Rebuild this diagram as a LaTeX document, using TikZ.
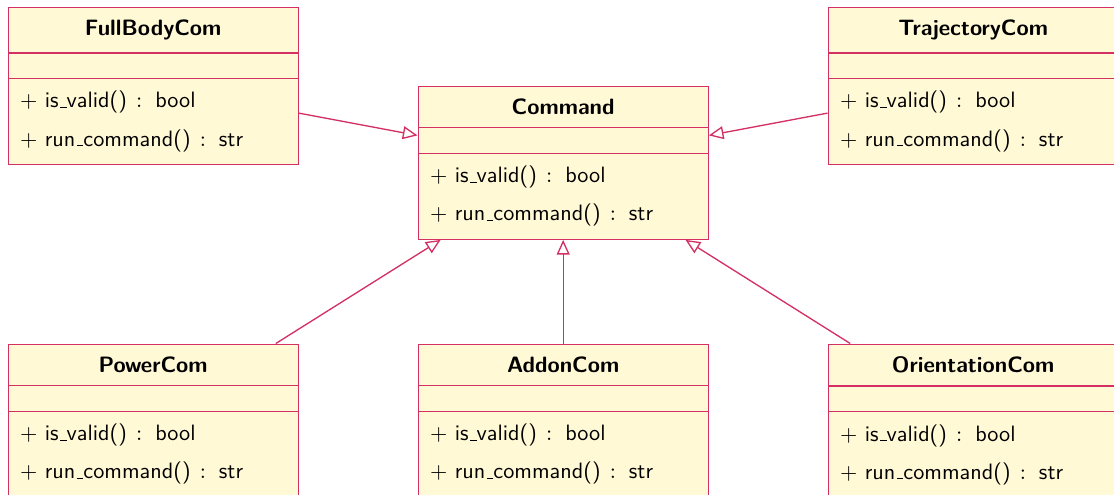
\documentclass[tikz,border=0pt]{standalone}
\usepackage{tikz}
\usetikzlibrary{shapes.multipart}
\usetikzlibrary{arrows.meta}

\definecolor{umlline}{RGB}{212,48,100}
\definecolor{umlfill}{RGB}{255,249,214}

\tikzset{
  umlclass/.style={rectangle split, rectangle split parts=3,
    draw=umlline, fill=umlfill, line width=0.6pt,
    text width=119.7pt, inner xsep=5.4pt, inner ysep=5.45pt,
    anchor=north west, font=\sffamily},
  inherit/.style={draw=umlline, line width=0.6pt,
    -{Triangle[open,length=6.6pt,width=5.8pt]}}
}

% thin low underscore and spaced colon for the method lines
\newcommand{\us}{\leavevmode\kern.06em\vbox{\hrule width.3em}}
\newcommand{\rtype}{ \kern0.8pt$:$ \kern2.5pt}
% operations shared by every command class
\newcommand{\comops}{$+$ is\us valid()\rtype bool\\[5.2pt]$+$ run\us command()\rtype str}

\begin{document}
\begin{tikzpicture}[x=0.45pt,y=-0.45pt]
\useasboundingbox (0,0) rectangle (1114,494);
\clip (0,0) rectangle (1114,494);

% Define nodes
\node[umlclass] (command) at (417.5,85.5) {\centering\textbf{Command}\par\nodepart{two}\nodepart{three}\comops};
\node[umlclass] (fullbody) at (7.5,6.5) {\centering\textbf{FullBodyCom}\par\nodepart{two}\nodepart{three}\comops};
\node[umlclass] (trajectory) at (827.5,6.5) {\centering\textbf{TrajectoryCom}\par\nodepart{two}\nodepart{three}\comops};
\node[umlclass] (power) at (7.5,343.5) {\centering\textbf{PowerCom}\par\nodepart{two}\nodepart{three}\comops};
\node[umlclass] (addon) at (417.5,343.5) {\centering\textbf{AddonCom}\par\nodepart{two}\nodepart{three}\comops};
\node[umlclass] (orientation) at (827.5,343.5) {\centering\textbf{OrientationCom}\par\nodepart{two}\nodepart{three}\comops};

% Edges
\draw[inherit] (fullbody) -- (command);
\draw[inherit] (trajectory) -- (command);
\draw[inherit] (power) -- (command);
\draw[inherit] (addon) -- (command);
\draw[inherit] (orientation) -- (command);
\end{tikzpicture}
\end{document}
